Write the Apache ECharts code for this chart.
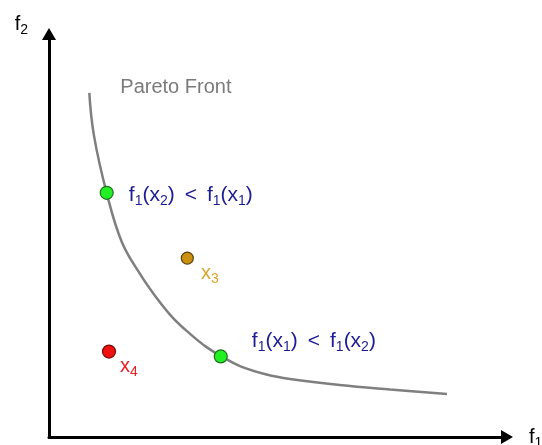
<!DOCTYPE html>
<html>
<head>
<meta charset="utf-8">
<script src="https://cdn.jsdelivr.net/npm/echarts@6/dist/echarts.min.js"></script>
<style>html,body{margin:0;padding:0;background:#fff;}#c{width:542px;height:445px;}</style>
</head>
<body>
<div id="c"></div>
<script>
// Pareto front curve (f1, f2)
var frontF1 = [8.8, 9.8, 12.6, 15.9, 19.9, 23.5, 27.1, 30.8, 34.4, 37.5, 41.7, 47.5, 52.6, 63.5, 74.5, 86.9];
var frontF2 = [85.4, 74.9, 60.5, 48.4, 40.4, 34.5, 29.5, 25.6, 22.3, 20.1, 17.6, 15.5, 14.4, 12.9, 11.8, 10.7];
// Points on the front (x2, x1)
var paretoF1 = [12.6, 37.5];
var paretoF2 = [60.6, 20.0];
var paretoLabels = [
  '{m|f}{s|1}{m|(x}{s|2}{m|)}{o|<}{m|f}{s|1}{m|(x}{s|1}{m|)}',
  '{m|f}{s|1}{m|(x}{s|1}{m|)}{o|<}{m|f}{s|1}{m|(x}{s|2}{m|)}'
];
// Dominated / other points
var x3 = [30.2, 44.4];
var x4 = [13.1, 21.2];
var frontName = 'Pareto Front';
var axisNames = ['{m|f}{s|1}', '{m|f}{s|2}'];

var FONT = 'Liberation Sans, Arial, sans-serif';
function richFor(color, size) {
  size = size || 20;
  return {
    m: { fontSize: size, color: color, fontFamily: FONT },
    s: { fontSize: 14, color: color, fontFamily: FONT, padding: [12, 0, 0, 0] },
    o: { fontSize: size, color: color, fontFamily: FONT, padding: [0, 10, 0, 10] }
  };
}

var frontData = frontF1.map(function (v, i) {
  var d = { value: [v, frontF2[i]] };
  if (i === 0) {
    d.label = {
      show: true, formatter: frontName, position: 'right', distance: 31, offset: [0, -5],
      fontSize: 20, color: '#7a7a7a', fontFamily: FONT
    };
  }
  return d;
});

var paretoData = paretoF1.map(function (v, i) {
  return {
    value: [v, paretoF2[i]],
    label: i === 0
      ? { show: true, formatter: paretoLabels[0], position: 'right', distance: 15, offset: [0, 2], rich: richFor('#1c1c94', 21) }
      : { show: true, formatter: paretoLabels[1], position: 'right', distance: 24, offset: [0, -15], rich: richFor('#1c1c94', 21) }
  };
});

var chart = echarts.init(document.getElementById('c'), null, { renderer: 'canvas' });
chart.setOption({
  animation: false,
  backgroundColor: '#ffffff',
  grid: { left: 49, right: 35, top: 34, bottom: 8, containLabel: false, outerBoundsMode: 'none' },
  xAxis: {
    type: 'value', min: 0, max: 100,
    name: axisNames[0], nameLocation: 'end', nameGap: 22,
    nameTextStyle: { rich: richFor('#000000'), verticalAlign: 'middle', align: 'left' },
    axisLine: { show: true, onZero: false, symbol: ['none', 'triangle'], symbolSize: [14, 12], lineStyle: { color: '#000', width: 3 } },
    axisTick: { show: false }, axisLabel: { show: false }, splitLine: { show: false }
  },
  yAxis: {
    type: 'value', min: 0, max: 100,
    name: axisNames[1], nameLocation: 'end', nameGap: 10,
    nameTextStyle: { rich: richFor('#000000'), verticalAlign: 'middle', align: 'right', padding: [0, 21, 0, 0] },
    axisLine: { show: true, onZero: false, symbol: ['none', 'triangle'], symbolSize: [14, 12], lineStyle: { color: '#000', width: 3 } },
    axisTick: { show: false }, axisLabel: { show: false }, splitLine: { show: false }
  },
  series: [
    {
      type: 'line', smooth: 0.4, data: frontData,
      showSymbol: true, symbol: 'circle', symbolSize: 0, silent: true,
      lineStyle: { color: '#7f7f7f', width: 2.5 },
      itemStyle: { color: '#7f7f7f' },
      emphasis: { disabled: true }, z: 2
    },
    {
      type: 'scatter', data: paretoData, symbolSize: 13, silent: true,
      itemStyle: { color: '#22f022', borderColor: '#1d6e1d', borderWidth: 1.2, opacity: 1 },
      emphasis: { disabled: true }, z: 3
    },
    {
      type: 'scatter', data: [x3], symbolSize: 12, silent: true,
      itemStyle: { color: '#cc9010', borderColor: '#5a4008', borderWidth: 1.2, opacity: 1 },
      label: { show: true, formatter: '{m|x}{s|3}', position: 'right', distance: 7, offset: [0, 15], rich: richFor('#d8a630') },
      emphasis: { disabled: true }, z: 3
    },
    {
      type: 'scatter', data: [x4], symbolSize: 13, silent: true,
      itemStyle: { color: '#ee1111', borderColor: '#7a0a0a', borderWidth: 1.2, opacity: 1 },
      label: { show: true, formatter: '{m|x}{s|4}', position: 'right', distance: 4, offset: [0, 15], rich: richFor('#e82020') },
      emphasis: { disabled: true }, z: 3
    }
  ]
});
</script>
</body>
</html>
